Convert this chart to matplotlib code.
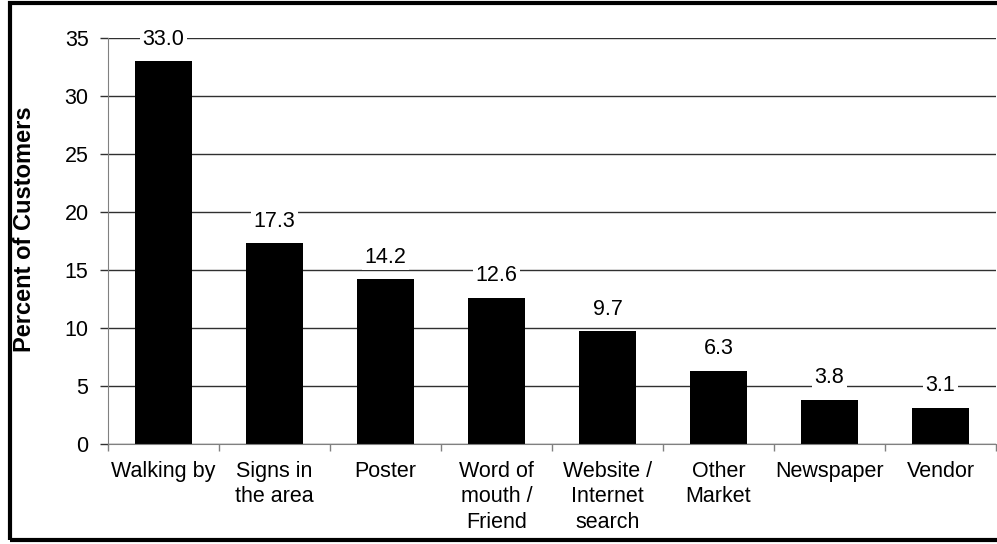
import numpy as np
import matplotlib
matplotlib.use("Agg")
import matplotlib.pyplot as plt
from matplotlib.patches import Rectangle

plt.rcParams['font.family'] = ['Liberation Sans', 'DejaVu Sans']

# values
categories = ["Walking by", "Signs in\nthe area", "Poster", "Word of\nmouth /\nFriend",
              "Website /\nInternet\nsearch", "Other\nMarket", "Newspaper", "Vendor"]
percents = [33.0, 17.3, 14.2, 12.6, 9.7, 6.3, 3.8, 3.1]
yticks = [0, 5, 10, 15, 20, 25, 30, 35]

fig = plt.figure(figsize=(9.97, 5.44), dpi=100)
ax = fig.add_axes([0.1083, 0.1838, 0.8907, 0.7463])

x = np.arange(len(categories))
ax.set_axisbelow(True)
ax.yaxis.grid(True, color='#303030', linewidth=1)
bars = ax.bar(x, percents, width=0.52, color='black', zorder=2)

for xi, v in zip(x, percents):
    ax.annotate('%.1f' % v, (xi, v), xytext=(0, 16), textcoords='offset points',
                ha='center', va='center', fontsize=15.5, zorder=4,
                bbox=dict(boxstyle='square,pad=0.12', fc='white', ec='none'))

ax.set_xlim(-0.5, len(categories) - 0.5)
ax.set_ylim(0, 35)
ax.set_yticks(yticks)
ax.tick_params(axis='y', labelsize=15.5, length=6, width=1, color='#303030', pad=8)

ax.set_xticks(x)
ax.set_xticklabels(categories, fontsize=15.5, linespacing=1.3, va='top')
ax.tick_params(axis='x', which='major', length=0, pad=12)
ax.set_xticks(np.arange(len(categories) + 1) - 0.5, minor=True)
ax.tick_params(axis='x', which='minor', length=5, color='#808080', width=1)

for s in ['top', 'right']:
    ax.spines[s].set_visible(False)
for s in ['left', 'bottom']:
    ax.spines[s].set_color('#808080')
    ax.spines[s].set_zorder(3)

# y axis title placed in figure coords
fig.text(25 / 997, 0.579, 'Percent of Customers', rotation=90, ha='center', va='center',
         fontsize=17, fontweight='bold')

# outer frame around the whole chart (right side runs off the picture)
fig.patches.append(Rectangle((10 / 997, 4 / 544), 1.0, 537 / 544, transform=fig.transFigure,
                             fill=False, ec='black', lw=3))

fig.savefig('out.png', dpi=100)
